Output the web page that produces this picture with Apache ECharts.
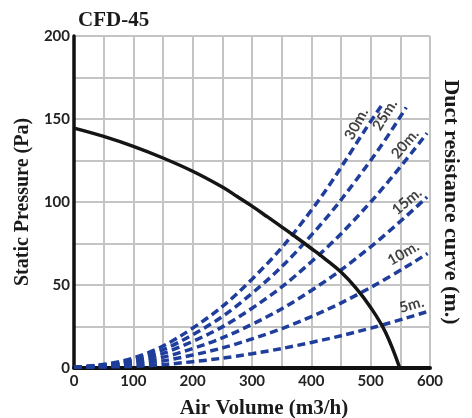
<!DOCTYPE html>
<html>
<head>
<meta charset="utf-8">
<script src="https://cdn.jsdelivr.net/npm/echarts@6/dist/echarts.min.js"></script>
<style>html,body{margin:0;padding:0;background:#fff}#c{width:472px;height:418px}</style>
</head>
<body>
<div id="c"></div>
<script>
// ---- data ----
var fanCurve = [[0,144.5],[50,139.5],[100,133.5],[150,126.5],[200,118.5],[250,109],[275,103.3],[300,97.5],[325,91.3],[350,85],[375,78.6],[400,72],[425,65.2],[450,57.8],[475,48.3],[500,36.5],[525,21.5],[549,0]];
var duct30 = [[0,0.5],[100,6],[200,24],[300,53.5],[400,95],[500,148.5],[518,158]];
var duct25 = [[0,0.5],[100,5],[200,20],[300,45],[400,80],[500,125],[560,157]];
var duct20 = [[0,0.5],[100,4],[200,16],[300,36],[400,64],[500,100],[595,141.5]];
var duct15 = [[0,0.5],[100,3],[200,11.7],[300,26.3],[400,46.7],[500,73],[595,103]];
var duct10 = [[0,0.5],[100,2],[200,7.8],[300,17.5],[400,31],[500,48.5],[596,69]];
var duct5  = [[0,0.5],[100,1],[200,3.8],[300,8.6],[400,15.4],[500,24],[596,34]];
var ductNames = ['30m.','25m.','20m.','15m.','10m.','5m.'];
var ductSeries = [duct30, duct25, duct20, duct15, duct10, duct5];
// label anchors in data coordinates [x, y] and text angle
var ductLabelAt = [[476,147],[524,152.5],[558,135],[561,100.5],[555,69],[569,38]];
var ductLabelAngle = [62,58,50,40,30,16];
var xTicks = [0,100,200,300,400,500,600];
var yTicks = [0,50,100,150,200];

var chart = echarts.init(document.getElementById('c'), null, {renderer:'canvas'});
var blue = '#1f3d9a';
var series = [];
ductSeries.forEach(function(d, i){
  series.push({
    type:'line', data:d, smooth:0.4, symbol:'none', z:2,
    lineStyle:{color:blue, width:3.5, type:[8,4.5], cap:'butt'}
  });
});
series.push({
  type:'line', data:fanCurve, smooth:0.4, symbol:'none', z:3,
  lineStyle:{color:'#151515', width:3.5}
});
series.push({
  type:'scatter', symbolSize:0, z:4, silent:true,
  data: ductLabelAt.map(function(p, i){
    return {value:p, label:{show:true, formatter:ductNames[i], rotate:ductLabelAngle[i], position:'inside',
      color:'#111', fontFamily:'Lato', fontWeight:'bold', fontSize:15}};
  })
});

chart.setOption({
  animation:false,
  title:{text:'CFD-45', left:73, top:5,
    textStyle:{fontFamily:'Liberation Serif', fontWeight:'bold', fontSize:21, color:'#1a1a1a'}},
  grid:{left:74, right:42, top:36, bottom:50, outerBoundsMode:'none', containLabel:false},
  xAxis:{type:'value', min:0, max:600, interval:50,
    name:'Air Volume (m3/h)', nameLocation:'middle', nameGap:30,
    nameTextStyle:{fontFamily:'Liberation Serif', fontWeight:'bold', fontSize:21, color:'#1a1a1a', padding:[0,0,0,24]},
    axisLine:{show:true, onZero:false, lineStyle:{color:'#111', width:4}},
    axisTick:{show:false},
    axisLabel:{margin:6, fontFamily:'Lato', fontWeight:'bold', fontSize:15, color:'#222',
      formatter:function(v){return xTicks.indexOf(v)>=0 ? String(v) : '';}},
    splitLine:{show:true, lineStyle:{color:'#c4c4c4', width:2}}
  },
  yAxis:[{type:'value', min:0, max:200, interval:25,
    name:'Static Pressure (Pa)', nameLocation:'middle', nameGap:36, nameRotate:90,
    nameTextStyle:{fontFamily:'Liberation Serif', fontWeight:'bold', fontSize:20, color:'#1a1a1a'},
    axisLine:{show:true, onZero:false, lineStyle:{color:'#111', width:3.5}},
    axisTick:{show:false},
    axisLabel:{margin:4, fontFamily:'Lato', fontWeight:'bold', fontSize:15, color:'#222',
      formatter:function(v){return yTicks.indexOf(v)>=0 ? String(v) : '';}},
    splitLine:{show:true, lineStyle:{color:'#c4c4c4', width:2}}
  },{type:'value', min:0, max:200, interval:25, position:'right',
    name:'Duct resistance curve (m.)', nameLocation:'middle', nameGap:10, nameRotate:-90,
    nameTextStyle:{fontFamily:'Liberation Serif', fontWeight:'bold', fontSize:22, color:'#1a1a1a'},
    axisLine:{show:false}, axisTick:{show:false}, axisLabel:{show:false}, splitLine:{show:false}
  }],
  series:series
});
</script>
</body>
</html>
